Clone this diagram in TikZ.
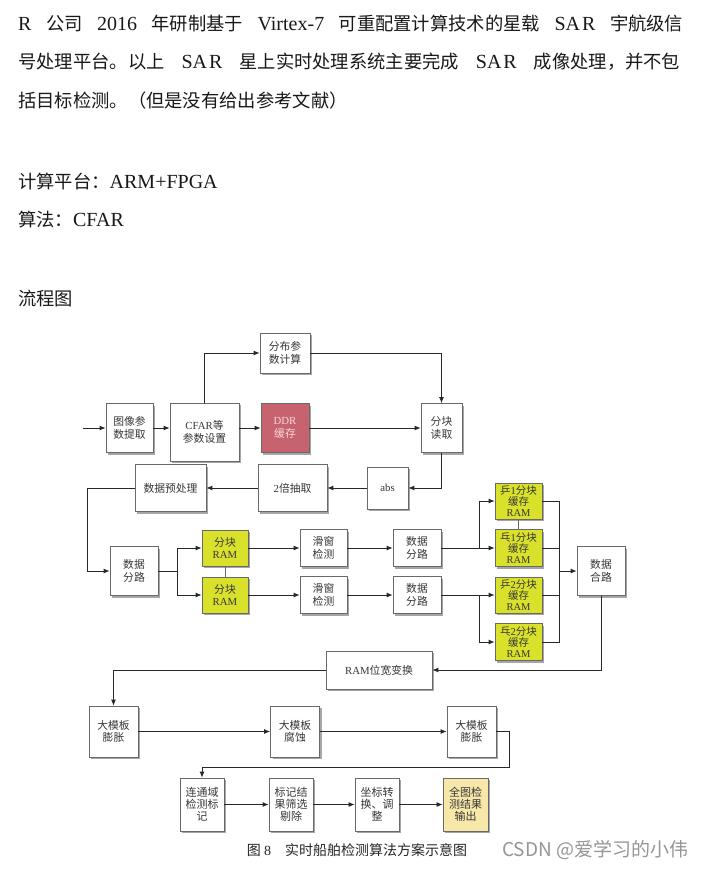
\documentclass[tikz,border=0pt]{standalone}
\usepackage{fontspec}
\setmainfont{Liberation Serif}
\newfontfamily\cjk{Noto Sans CJK SC}
\usetikzlibrary{arrows.meta,shadows}
\definecolor{ddrred}{RGB}{199,99,111}
\definecolor{ddrtext}{RGB}{245,215,220}
\definecolor{ramyel}{RGB}{217,225,42}
\definecolor{outyel}{RGB}{247,231,168}
\definecolor{linec}{RGB}{40,40,40}
\definecolor{boxline}{RGB}{105,105,105}
\definecolor{boxtext}{RGB}{55,55,55}
\definecolor{marktext}{RGB}{150,150,150}
\newcommand\lat[1]{{\rmfamily #1}}
\newcommand\zh[1]{{\cjk\fontsize{18.3}{22}\selectfont #1}}
\begin{document}
\begin{tikzpicture}[x=1pt,y=-1pt,
  blk/.style={draw=boxline, line width=0.7pt, fill=white, inner sep=0pt, align=center,
    font=\cjk\fontsize{10.8}{12.5}\selectfont, text=boxtext,
    drop shadow={shadow xshift=2pt, shadow yshift=-2pt, fill=black, opacity=0.35}},
  bsz/.style 2 args={minimum width=#1pt, minimum height=#2pt},
  buf/.style={font=\cjk\fontsize{10.5}{11.3}\selectfont},
  lthree/.style={font=\cjk\fontsize{11}{12}\selectfont},
  arr/.style={draw=linec, line width=0.9pt, -{Latex[length=6pt,width=5pt]}},
  ln/.style={draw=linec, line width=0.9pt},
  thinln/.style={draw=boxline, line width=0.7pt},
  para/.style={anchor=base west, inner sep=0pt, font=\fontsize{20}{22}\selectfont, text=black!90},
]
\fill[white] (0,0) rectangle (704,869);
\useasboundingbox (0,0) rectangle (704,869);

% ---------- paragraph text ----------
\node[para] (t1) at (18,31) {\makebox[665pt][s]{R \zh{公司} 2016 \zh{年研制基于} Virtex-7 \zh{可重配置计算技术的星载} SA\kern2pt R \zh{宇航级信}}};
\node[para] (t2) at (18,69) {\makebox[662pt][s]{\zh{号处理平台。以上} SA\kern2pt R \zh{星上实时处理系统主要完成} SA\kern2pt R \zh{成像处理，并不包}}};
\node[para] (t3) at (18,108) {\zh{括目标检测。（但是没有给出参考文献）}};
\node[para] (t4) at (18,188) {\zh{计算平台：}ARM+FPGA};
\node[para] (t5) at (18,226) {\zh{算法：}CFAR};
\node[para] (t6) at (18,305) {\zh{流程图}};

% ---------- boxes ----------
\node[blk,bsz={47}{49}] (tx) at (129.5,428) {图像参\\数提取};
\node[blk,bsz={69}{58}] (cfar) at (204.5,432) {\lat{CFAR}等\\参数设置};
\node[blk,bsz={50}{40}] (fb) at (285,353) {分布参\\数计算};
\node[blk,bsz={48}{49},fill=ddrred,text=ddrtext] (ddr) at (285,428) {\lat{DDR}\\缓存};
\node[blk,bsz={41}{49}] (fk) at (441.5,428) {分块\\读取};
\node[blk,bsz={41}{42}] (abs) at (387.5,488) {\lat{abs}};
\node[blk,bsz={69}{47}] (cq) at (292.5,488) {\lat{2}倍抽取};
\node[blk,bsz={71}{47}] (yc) at (170.5,488) {数据预处理};
\node[blk,bsz={48}{49}] (fl1) at (134,571) {数据\\分路};
\node[blk,bsz={46}{36},fill=ramyel] (ram1) at (225,548) {分块\\\lat{RAM}};
\node[blk,bsz={46}{36},fill=ramyel] (ram2) at (225,595) {分块\\\lat{RAM}};
\node[blk,bsz={47}{37}] (hc1) at (323.5,548) {滑窗\\检测};
\node[blk,bsz={47}{37}] (hc2) at (323.5,595) {滑窗\\检测};
\node[blk,bsz={48}{37}] (fl2) at (417,548) {数据\\分路};
\node[blk,bsz={48}{37}] (fl3) at (417,595) {数据\\分路};
\node[blk,buf,bsz={47}{36},fill=ramyel] (p1) at (518.5,501) {乒\lat{1}分块\\缓存\\\lat{RAM}};
\node[blk,buf,bsz={47}{37},fill=ramyel] (q1) at (518.5,548) {乓\lat{1}分块\\缓存\\\lat{RAM}};
\node[blk,buf,bsz={47}{36},fill=ramyel] (p2) at (518.5,595) {乒\lat{2}分块\\缓存\\\lat{RAM}};
\node[blk,buf,bsz={47}{37},fill=ramyel] (q2) at (518.5,642) {乓\lat{2}分块\\缓存\\\lat{RAM}};
\node[blk,bsz={48}{49}] (hl) at (601,571) {数据\\合路};
\node[blk,bsz={106}{38}] (ramw) at (379,670) {\lat{RAM}位宽变换};
\node[blk,bsz={49}{51}] (pz1) at (113.5,731.5) {大模板\\膨胀};
\node[blk,bsz={49}{51}] (fs) at (295,731.5) {大模板\\腐蚀};
\node[blk,bsz={49}{51}] (pz2) at (471.5,731.5) {大模板\\膨胀};
\node[blk,lthree,bsz={44}{53}] (lt) at (202,804.5) {连通域\\检测标\\记};
\node[blk,lthree,bsz={44}{53}] (bj) at (291,804.5) {标记结\\果筛选\\剔除};
\node[blk,lthree,bsz={44}{53}] (zb) at (377,804.5) {坐标转\\换、调\\整};
\node[blk,lthree,bsz={45}{53},fill=outyel] (qt) at (465.5,804.5) {全图检\\测结果\\输出};

% ---------- connectors ----------
\coordinate (in) at (83,428);
\draw[arr] (in) -- (tx);
\draw[arr] (tx.east) -- (tx.east -| cfar.west);
\draw[arr] (cfar.east |- ddr.west) -- (ddr.west);
\draw[arr] (cfar.north) |- (fb.west);
\draw[arr] (fb.east) -| (fk.north);
\draw[arr] (ddr) -- (fk);
\draw[arr] (fk.south) |- (abs.east);
\draw[arr] (abs) -- (cq);
\draw[arr] (cq) -- (yc);
\draw[arr] (yc.west) -- ++(-47,0) |- (fl1.west);

\coordinate (s1) at (177,571);
\draw[ln] (fl1.east) -- (s1);
\draw[arr] (s1) |- (ram1.west);
\draw[arr] (s1) |- (ram2.west);
\draw[thinln] (ram1.south) -- (ram2.north);
\draw[arr] (ram1) -- (hc1);
\draw[arr] (ram2) -- (hc2);
\draw[arr] (hc1) -- (fl2);
\draw[arr] (hc2) -- (fl3);

\coordinate (s2) at (479,548);
\coordinate (s3) at (479,595);
\draw[ln] (fl2.east) -- (s2);
\draw[arr] (s2) |- (p1.west);
\draw[arr] (s2) -- (q1.west);
\draw[ln] (fl3.east) -- (s3);
\draw[arr] (s3) -- (p2.west);
\draw[arr] (s3) |- (q2.west);
\draw[thinln] (p1.south) -- (q1.north);

\coordinate (bus) at (559,571);
\draw[ln] (p1.east) -| (bus);
\draw[ln] (q1.east) -| (bus);
\draw[ln] (p2.east) -| (bus);
\draw[ln] (q2.east) -| (bus);
\draw[arr] (bus) -- (hl.west);

\draw[arr] (hl.south) |- (ramw.east);
\draw[arr] (ramw.west) -| (pz1.north);
\draw[arr] (pz1) -- (fs);
\draw[arr] (fs) -- (pz2);
\draw[arr] (pz2.east) -- ++(13,0) -- ++(0,36) -| (lt.north);
\draw[arr] (lt) -- (bj);
\draw[arr] (bj) -- (zb);
\draw[arr] (zb) -- (qt);

% ---------- caption and watermark ----------
\node[font=\cjk\fontsize{14}{16}\selectfont, text=black!85] (cap) at (357,850) {图 \lat{8}\hspace{14pt}实时船舶检测算法方案示意图};
\node[anchor=west, inner sep=0pt, font=\cjk\fontsize{19}{21}\selectfont, text=marktext] (wm) at (502,850) {CSDN @爱学习的小伟};
\end{tikzpicture}
\end{document}
